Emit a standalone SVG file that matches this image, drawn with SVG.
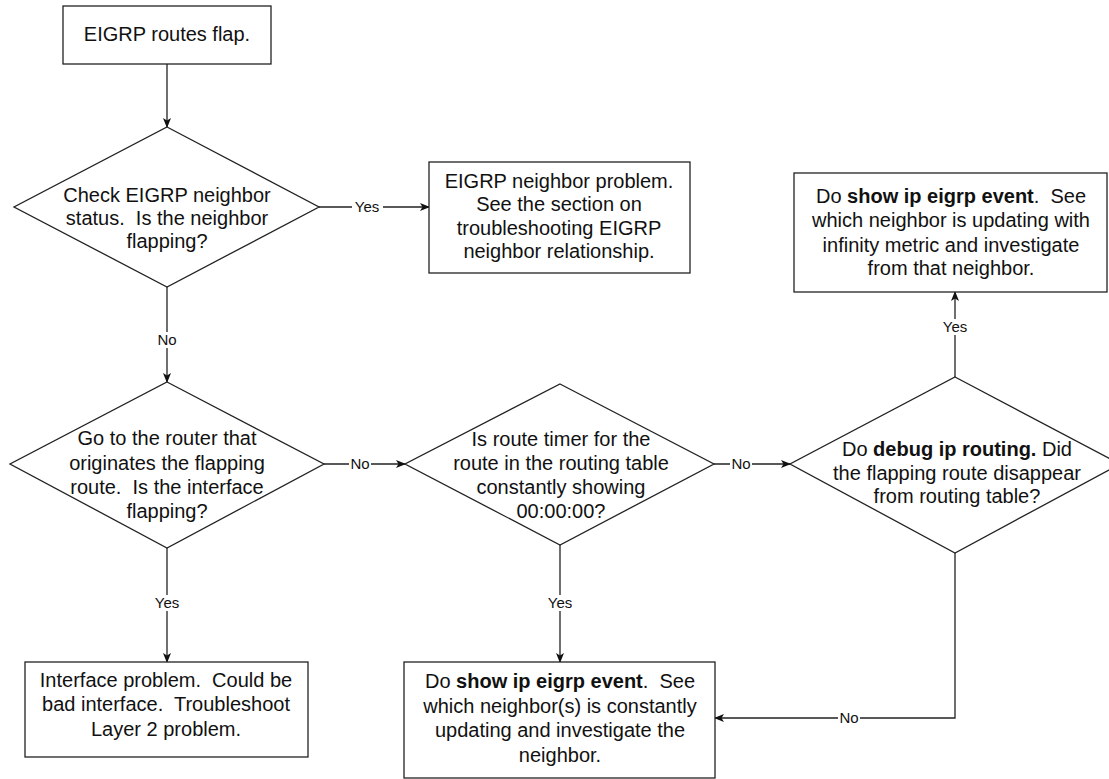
<svg xmlns="http://www.w3.org/2000/svg" width="1109" height="779" viewBox="0 0 1109 779" xml:space="preserve">
<style>
.box{fill:#fff;stroke:#222;stroke-width:1.3}
.t{font-family:"Liberation Sans",Arial,sans-serif;font-size:20px;fill:#111;text-anchor:middle;white-space:pre}
.b{font-weight:bold}
.c{fill:none;stroke:#222;stroke-width:1.3}
.lbl{font-family:"Liberation Sans",Arial,sans-serif;font-size:15px;fill:#111;text-anchor:middle}
.bg{fill:#fff}
</style>
<defs>
<marker id="ah" markerWidth="10" markerHeight="8" refX="9" refY="4" orient="auto" markerUnits="userSpaceOnUse">
<path d="M0,0 L10,4 L0,8 L2.5,4 Z" fill="#111"/>
</marker>
</defs>
<rect width="1109" height="779" fill="#fff"/>
<g id="connectors">
<line class="c" x1="167" y1="64" x2="167" y2="127" marker-end="url(#ah)"/>
<line class="c" x1="319" y1="207" x2="429" y2="207" marker-end="url(#ah)"/>
<line class="c" x1="167" y1="287" x2="167" y2="382" marker-end="url(#ah)"/>
<line class="c" x1="324" y1="464" x2="405" y2="464" marker-end="url(#ah)"/>
<line class="c" x1="714" y1="464" x2="790" y2="464" marker-end="url(#ah)"/>
<line class="c" x1="955" y1="377" x2="955" y2="292" marker-end="url(#ah)"/>
<line class="c" x1="167" y1="548" x2="167" y2="662" marker-end="url(#ah)"/>
<line class="c" x1="560" y1="545" x2="560" y2="662" marker-end="url(#ah)"/>
<polyline class="c" points="955,553 955,718 715,718" marker-end="url(#ah)"/>
<rect class="bg" x="352" y="199" width="31" height="16"/>
<text class="lbl" x="367" y="212">Yes</text>
<rect class="bg" x="156" y="332" width="22" height="16"/>
<text class="lbl" x="167" y="345">No</text>
<rect class="bg" x="349" y="456" width="22" height="16"/>
<text class="lbl" x="360" y="469">No</text>
<rect class="bg" x="730" y="456" width="22" height="16"/>
<text class="lbl" x="741" y="469">No</text>
<rect class="bg" x="940" y="319" width="30" height="16"/>
<text class="lbl" x="955" y="332">Yes</text>
<rect class="bg" x="152" y="595" width="30" height="16"/>
<text class="lbl" x="167" y="608">Yes</text>
<rect class="bg" x="545" y="595" width="30" height="16"/>
<text class="lbl" x="560" y="608">Yes</text>
<rect class="bg" x="838" y="710" width="22" height="16"/>
<text class="lbl" x="849" y="723">No</text>
</g>
<g id="start">
<rect class="box" x="63" y="6" width="208" height="58"/>
<text class="t" x="167" y="41">EIGRP routes flap.</text>
</g>
<g id="check-neighbor">
<polygon class="box" points="167,127 319,207 167,287 14,207"/>
<text class="t" x="167" y="202">Check EIGRP neighbor</text>
<text class="t" x="167" y="225">status.  Is the neighbor</text>
<text class="t" x="167" y="248">flapping?</text>
</g>
<g id="neighbor-problem">
<rect class="box" x="429" y="162" width="261" height="111"/>
<text class="t" x="559" y="188">EIGRP neighbor problem.</text>
<text class="t" x="559" y="211">See the section on</text>
<text class="t" x="559" y="235">troubleshooting EIGRP</text>
<text class="t" x="559" y="258">neighbor relationship.</text>
</g>
<g id="interface-flapping">
<polygon class="box" points="167,382 324,464 167,548 10,464"/>
<text class="t" x="167" y="445">Go to the router that</text>
<text class="t" x="167" y="470">originates the flapping</text>
<text class="t" x="167" y="494">route.  Is the interface</text>
<text class="t" x="167" y="518">flapping?</text>
</g>
<g id="route-timer">
<polygon class="box" points="560,384 714,464 560,545 405,464"/>
<text class="t" x="561" y="446">Is route timer for the</text>
<text class="t" x="561" y="470">route in the routing table</text>
<text class="t" x="561" y="494">constantly showing</text>
<text class="t" x="561" y="518">00:00:00?</text>
</g>
<g id="debug-routing">
<polygon class="box" points="955,377 1120,464 955,553 790,464"/>
<text class="t" x="957" y="456">Do <tspan class="b">debug ip routing.</tspan> Did</text>
<text class="t" x="957" y="480">the flapping route disappear</text>
<text class="t" x="957" y="503">from routing table?</text>
</g>
<g id="infinity-metric">
<rect class="box" x="794" y="173" width="313" height="119"/>
<text class="t" x="951" y="203">Do <tspan class="b">show ip eigrp event</tspan>.  See</text>
<text class="t" x="951" y="227">which neighbor is updating with</text>
<text class="t" x="951" y="252">infinity metric and investigate</text>
<text class="t" x="951" y="275">from that neighbor.</text>
</g>
<g id="interface-problem">
<rect class="box" x="25" y="662" width="283" height="95"/>
<text class="t" x="166" y="687">Interface problem.  Could be</text>
<text class="t" x="166" y="711">bad interface.  Troubleshoot</text>
<text class="t" x="166" y="736">Layer 2 problem.</text>
</g>
<g id="constantly-updating">
<rect class="box" x="404" y="662" width="311" height="116"/>
<text class="t" x="560" y="688">Do <tspan class="b">show ip eigrp event</tspan>.  See</text>
<text class="t" x="560" y="713">which neighbor(s) is constantly</text>
<text class="t" x="560" y="737">updating and investigate the</text>
<text class="t" x="560" y="762">neighbor.</text>
</g>
</svg>
